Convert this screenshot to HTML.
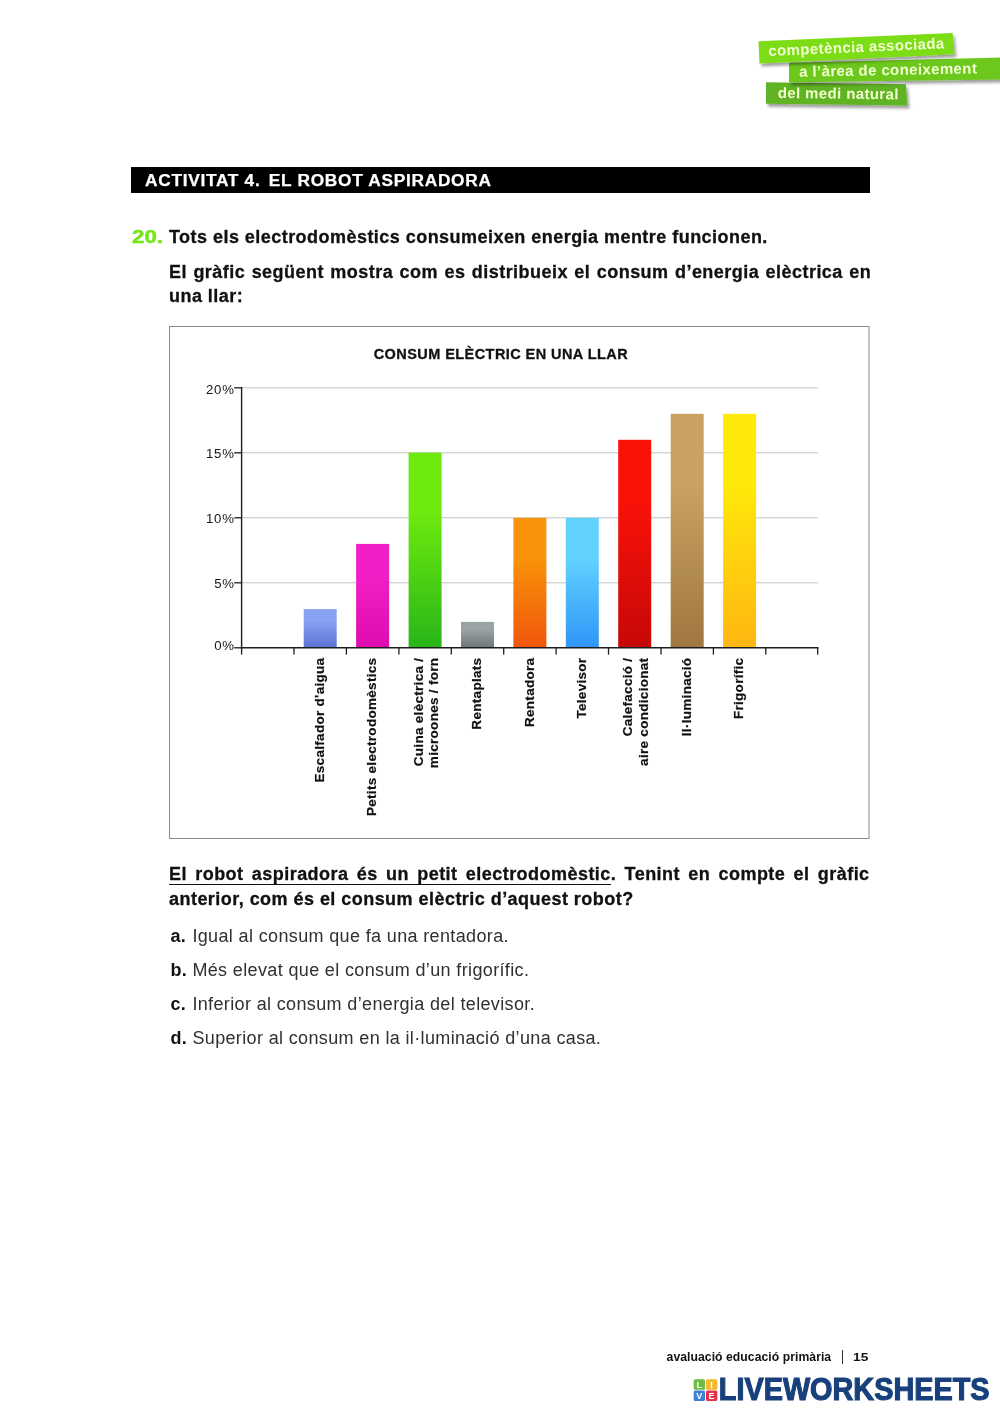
<!DOCTYPE html>
<html lang="ca"><head><meta charset="utf-8"><title>Activitat 4. El robot aspiradora</title>
<style>
html,body{margin:0;padding:0;background:#fff;}
body{width:1000px;height:1414px;position:relative;overflow:hidden;font-family:"Liberation Sans",sans-serif;color:#111;}
.abs{position:absolute;white-space:nowrap;}
svg.chart{position:absolute;left:0;top:0;}
.yl{font:13.2px "Liberation Sans",sans-serif;fill:#161616;letter-spacing:0.9px;}
.ct{font:bold 14.5px "Liberation Sans",sans-serif;fill:#111;letter-spacing:0.43px;stroke:#111;stroke-width:0.3px;}
.xl{font:bold 13.5px "Liberation Sans",sans-serif;fill:#111;letter-spacing:0.3px;stroke:#111;stroke-width:0.2px;}
.tag{font:bold 15px "Liberation Sans",sans-serif;fill:#f1ffcf;letter-spacing:0.38px;}
.bar{left:131px;top:166.6px;width:738.5px;height:26px;background:#000;}
.bar span{position:absolute;left:14.2px;top:0;line-height:27.8px;font-weight:bold;font-size:16px;letter-spacing:0.66px;color:#fff;transform:scaleX(1.08);transform-origin:0 0;-webkit-text-stroke:0.25px #fff;}
.num{left:131.8px;top:225px;line-height:24px;font-size:18px;font-weight:bold;color:#76e61e;-webkit-text-stroke:0.5px #76e61e;transform:scaleX(1.24);transform-origin:0 0;}
.b{font-weight:bold;font-size:18px;line-height:24px;letter-spacing:0.46px;color:#111;-webkit-text-stroke:0.3px #111;}
.just{white-space:normal;text-align:justify;text-align-last:left;width:702.2px;}
.opt{font-size:18px;line-height:24px;color:#303030;letter-spacing:0.36px;}
.opt b{color:#111;display:inline-block;width:21.9px;letter-spacing:0.3px;}
.u{border-bottom:1.3px solid #111;padding-bottom:0px;}
.foot{font-weight:bold;font-size:12.2px;line-height:16px;color:#111;letter-spacing:0.05px;}
.lw{font:bold 30.8px "Liberation Sans",sans-serif;fill:#17407c;stroke:#17407c;stroke-width:1.1px;stroke-linejoin:miter;}
.sq{font:bold 9px "Liberation Sans",sans-serif;fill:#fff;}
</style></head><body>
<svg class="chart" width="1000" height="1414" viewBox="0 0 1000 1414">
<defs>
<linearGradient id="g0" x1="0" y1="0" x2="0" y2="1"> <stop offset="0" stop-color="#8aa2f2"/><stop offset="0.3" stop-color="#8aa2f2"/><stop offset="1" stop-color="#5d72d2"/></linearGradient>
<linearGradient id="g1" x1="0" y1="0" x2="0" y2="1"> <stop offset="0" stop-color="#f21fc6"/><stop offset="0.3" stop-color="#f21fc6"/><stop offset="1" stop-color="#de0cae"/></linearGradient>
<linearGradient id="g2" x1="0" y1="0" x2="0" y2="1"> <stop offset="0" stop-color="#6fea0e"/><stop offset="0.3" stop-color="#6fea0e"/><stop offset="1" stop-color="#27b51a"/></linearGradient>
<linearGradient id="g3" x1="0" y1="0" x2="0" y2="1"> <stop offset="0" stop-color="#9aa3a3"/><stop offset="0.3" stop-color="#9aa3a3"/><stop offset="1" stop-color="#6d7777"/></linearGradient>
<linearGradient id="g4" x1="0" y1="0" x2="0" y2="1"> <stop offset="0" stop-color="#f9930a"/><stop offset="0.3" stop-color="#f9930a"/><stop offset="1" stop-color="#f0560a"/></linearGradient>
<linearGradient id="g5" x1="0" y1="0" x2="0" y2="1"> <stop offset="0" stop-color="#62d2ff"/><stop offset="0.3" stop-color="#62d2ff"/><stop offset="1" stop-color="#2f96f7"/></linearGradient>
<linearGradient id="g6" x1="0" y1="0" x2="0" y2="1"> <stop offset="0" stop-color="#f91208"/><stop offset="0.3" stop-color="#f91208"/><stop offset="1" stop-color="#c60808"/></linearGradient>
<linearGradient id="g7" x1="0" y1="0" x2="0" y2="1"> <stop offset="0" stop-color="#c9a262"/><stop offset="0.3" stop-color="#c9a262"/><stop offset="1" stop-color="#9f773f"/></linearGradient>
<linearGradient id="g8" x1="0" y1="0" x2="0" y2="1"> <stop offset="0" stop-color="#ffe90a"/><stop offset="0.3" stop-color="#ffe90a"/><stop offset="1" stop-color="#ffb612"/></linearGradient>
</defs>
<rect x="169.5" y="326.5" width="699.5" height="512" fill="#fff" stroke="#8a8a8a" stroke-width="1"/>
<line x1="241.6" y1="582.8" x2="818" y2="582.8" stroke="#c2c2c2" stroke-width="1"/>
<line x1="241.6" y1="517.8" x2="818" y2="517.8" stroke="#c2c2c2" stroke-width="1"/>
<line x1="241.6" y1="452.8" x2="818" y2="452.8" stroke="#c2c2c2" stroke-width="1"/>
<line x1="241.6" y1="387.8" x2="818" y2="387.8" stroke="#c2c2c2" stroke-width="1"/>
<rect x="303.7" y="609.1" width="33" height="38.7" fill="url(#g0)"/>
<rect x="356.1" y="543.9" width="33" height="103.9" fill="url(#g1)"/>
<rect x="408.6" y="452.6" width="33" height="195.2" fill="url(#g2)"/>
<rect x="461.0" y="621.9" width="33" height="25.9" fill="url(#g3)"/>
<rect x="513.4" y="517.8" width="33" height="130.0" fill="url(#g4)"/>
<rect x="565.8" y="517.8" width="33" height="130.0" fill="url(#g5)"/>
<rect x="618.2" y="439.8" width="33" height="208.0" fill="url(#g6)"/>
<rect x="670.7" y="413.8" width="33" height="234.0" fill="url(#g7)"/>
<rect x="723.1" y="413.8" width="33" height="234.0" fill="url(#g8)"/>
<line x1="241.6" y1="387.1" x2="241.6" y2="648.5" stroke="#1c1c1c" stroke-width="1.4"/>
<line x1="240.9" y1="647.8" x2="818.4" y2="647.8" stroke="#1c1c1c" stroke-width="1.4"/>
<line x1="241.6" y1="647.8" x2="241.6" y2="654.6" stroke="#1c1c1c" stroke-width="1.3"/>
<line x1="294.0" y1="647.8" x2="294.0" y2="654.6" stroke="#1c1c1c" stroke-width="1.3"/>
<line x1="346.4" y1="647.8" x2="346.4" y2="654.6" stroke="#1c1c1c" stroke-width="1.3"/>
<line x1="398.9" y1="647.8" x2="398.9" y2="654.6" stroke="#1c1c1c" stroke-width="1.3"/>
<line x1="451.3" y1="647.8" x2="451.3" y2="654.6" stroke="#1c1c1c" stroke-width="1.3"/>
<line x1="503.7" y1="647.8" x2="503.7" y2="654.6" stroke="#1c1c1c" stroke-width="1.3"/>
<line x1="556.1" y1="647.8" x2="556.1" y2="654.6" stroke="#1c1c1c" stroke-width="1.3"/>
<line x1="608.5" y1="647.8" x2="608.5" y2="654.6" stroke="#1c1c1c" stroke-width="1.3"/>
<line x1="661.0" y1="647.8" x2="661.0" y2="654.6" stroke="#1c1c1c" stroke-width="1.3"/>
<line x1="713.4" y1="647.8" x2="713.4" y2="654.6" stroke="#1c1c1c" stroke-width="1.3"/>
<line x1="765.8" y1="647.8" x2="765.8" y2="654.6" stroke="#1c1c1c" stroke-width="1.3"/>
<line x1="817.7" y1="647.8" x2="817.7" y2="654.6" stroke="#1c1c1c" stroke-width="1.3"/>
<line x1="234.2" y1="647.8" x2="241.6" y2="647.8" stroke="#1c1c1c" stroke-width="1.3"/>
<text x="235" y="650.30" text-anchor="end" class="yl">0%</text>
<line x1="234.2" y1="582.8" x2="241.6" y2="582.8" stroke="#1c1c1c" stroke-width="1.3"/>
<text x="235" y="587.70" text-anchor="end" class="yl">5%</text>
<line x1="234.2" y1="517.8" x2="241.6" y2="517.8" stroke="#1c1c1c" stroke-width="1.3"/>
<text x="235" y="523.30" text-anchor="end" class="yl">10%</text>
<line x1="234.2" y1="452.8" x2="241.6" y2="452.8" stroke="#1c1c1c" stroke-width="1.3"/>
<text x="235" y="458.10" text-anchor="end" class="yl">15%</text>
<line x1="234.2" y1="387.8" x2="241.6" y2="387.8" stroke="#1c1c1c" stroke-width="1.3"/>
<text x="235" y="394.00" text-anchor="end" class="yl">20%</text>
<text x="500.9" y="358.9" text-anchor="middle" class="ct">CONSUM ELÈCTRIC EN UNA LLAR</text>
<text transform="translate(324.0 657.6) rotate(-90)" text-anchor="end" class="xl">Escalfador d'aigua</text>
<text transform="translate(376.4 657.6) rotate(-90)" text-anchor="end" class="xl">Petits electrodomèstics</text>
<text transform="translate(422.7 657.6) rotate(-90)" text-anchor="end" class="xl">Cuina elèctrica /</text>
<text transform="translate(438.0 657.6) rotate(-90)" text-anchor="end" class="xl">microones / forn</text>
<text transform="translate(481.3 657.6) rotate(-90)" text-anchor="end" class="xl">Rentaplats</text>
<text transform="translate(533.7 657.6) rotate(-90)" text-anchor="end" class="xl">Rentadora</text>
<text transform="translate(586.1 657.6) rotate(-90)" text-anchor="end" class="xl">Televisor</text>
<text transform="translate(632.4 657.6) rotate(-90)" text-anchor="end" class="xl">Calefacció /</text>
<text transform="translate(647.6 657.6) rotate(-90)" text-anchor="end" class="xl">aire condicionat</text>
<text transform="translate(691.0 657.6) rotate(-90)" text-anchor="end" class="xl">Il·luminació</text>
<text transform="translate(743.4 657.6) rotate(-90)" text-anchor="end" class="xl">Frigorífic</text>
</svg>
<svg class="chart" width="1000" height="130" viewBox="0 0 1000 130">
<defs><filter id="sh" x="-10%" y="-30%" width="120%" height="180%"><feGaussianBlur in="SourceAlpha" stdDeviation="1.6"/><feOffset dx="1.5" dy="2.5"/><feComponentTransfer><feFuncA type="linear" slope="0.38"/></feComponentTransfer><feMerge><feMergeNode/><feMergeNode in="SourceGraphic"/></feMerge></filter></defs>
<polygon points="766,82.2 905.8,84.2 907.5,105.6 766,103.7" fill="#60b324" filter="url(#sh)"/>
<polygon points="789,62.7 1002,57.4 1002,79.6 789,82.2" fill="#6cc81e" filter="url(#sh)"/>
<polygon points="758.5,41.3 952.6,33 954.5,54.3 759.5,63.4" fill="#7bdc14" filter="url(#sh)"/>
<text class="tag" transform="translate(768.6 56) rotate(-2.5)">competència associada</text>
<text class="tag" transform="translate(799.3 76.8) rotate(-1.1)">a l’àrea de coneixement</text>
<text class="tag" transform="translate(777.7 98) rotate(0.6)">del medi natural</text>
</svg>
<div class="abs bar"><span>ACTIVITAT 4. <i style="font-style:normal;margin-left:2.6px">EL</i> ROBOT ASPIRADORA</span></div>
<div class="abs num">20.</div>
<div class="abs b" style="left:169px;top:225px;">Tots els electrodomèstics consumeixen energia mentre funcionen.</div>
<div class="abs b just" style="left:169px;top:260.4px;">El gràfic següent mostra com es distribueix el consum d’energia elèctrica en una llar:</div>
<div class="abs b just" style="left:169px;top:862.3px;line-height:25px;width:700.6px;"><span class="u">El robot aspiradora és un petit electrodomèstic</span>. Tenint en compte el gràfic anterior, com és el consum elèctric d’aquest robot?</div>
<div class="abs opt" style="left:170.5px;top:924.3px;"><b>a.</b>Igual al consum que fa una rentadora.</div>
<div class="abs opt" style="left:170.5px;top:957.8px;"><b>b.</b>Més elevat que el consum d’un frigorífic.</div>
<div class="abs opt" style="left:170.5px;top:991.6px;"><b>c.</b>Inferior al consum d’energia del televisor.</div>
<div class="abs opt" style="left:170.5px;top:1025.6px;"><b>d.</b>Superior al consum en la il·luminació d’una casa.</div>
<div class="abs foot" style="left:666.6px;top:1349.4px;">avaluació educació primària</div>
<div class="abs" style="left:842.1px;top:1349.9px;width:1px;height:13.9px;background:#333;"></div>
<div class="abs foot" style="left:852.8px;top:1349.4px;font-size:11.4px;transform:scaleX(1.2);transform-origin:0 0;">15</div>
<svg class="chart" style="top:1370px" width="1000" height="44" viewBox="0 1370 1000 44">
<rect x="693.7" y="1379.3" width="11.3" height="10.4" rx="1.5" fill="#6cbd45"/>
<rect x="706" y="1379.3" width="11.3" height="10.4" rx="1.5" fill="#f5b82e"/>
<rect x="693.7" y="1390.6" width="11.3" height="10.4" rx="1.5" fill="#3b7fd9"/>
<rect x="706" y="1390.6" width="11.3" height="10.4" rx="1.5" fill="#e8304a"/>
<text class="sq" x="699.3" y="1387.8" text-anchor="middle">L</text>
<text class="sq" x="711.6" y="1387.8" text-anchor="middle">I</text>
<text class="sq" x="699.3" y="1399.1" text-anchor="middle">V</text>
<text class="sq" x="711.6" y="1399.1" text-anchor="middle">E</text>
<text class="lw" x="718.8" y="1400.2" textLength="270.7" lengthAdjust="spacingAndGlyphs">LIVEWORKSHEETS</text>
</svg>
</body></html>
